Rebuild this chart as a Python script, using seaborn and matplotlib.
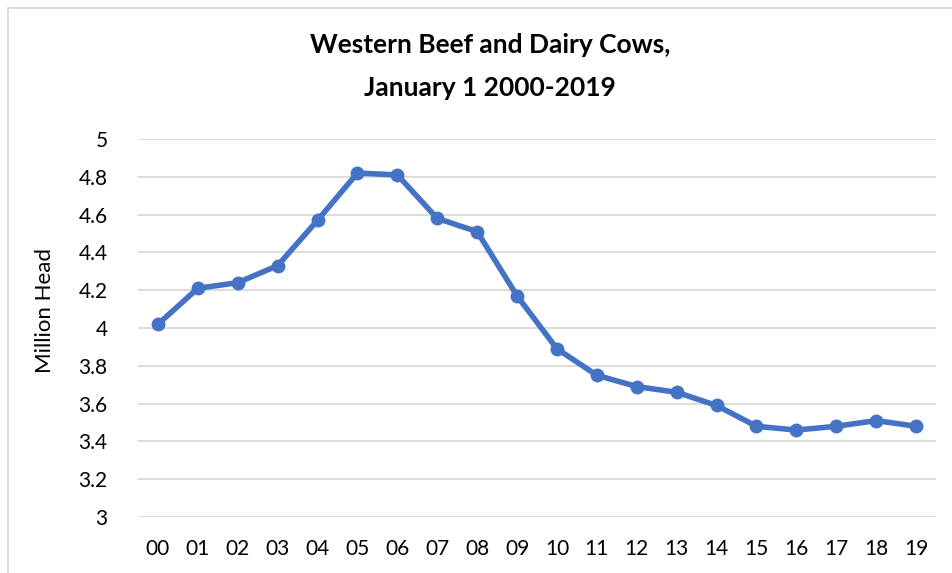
import pandas as pd
import seaborn as sns
import matplotlib.pyplot as plt
from matplotlib.patches import Rectangle

years = ['00', '01', '02', '03', '04', '05', '06', '07', '08', '09',
         '10', '11', '12', '13', '14', '15', '16', '17', '18', '19']
cows = [4.02, 4.21, 4.24, 4.33, 4.57, 4.82, 4.81, 4.58, 4.51, 4.17,
        3.89, 3.75, 3.69, 3.66, 3.59, 3.48, 3.46, 3.48, 3.51, 3.48]
y_ticks = [3, 3.2, 3.4, 3.6, 3.8, 4, 4.2, 4.4, 4.6, 4.8, 5]
y_labels = ['3', '3.2', '3.4', '3.6', '3.8', '4', '4.2', '4.4', '4.6', '4.8', '5']

df = pd.DataFrame({'Year': years, 'Cows': cows})
df['pos'] = range(len(df))

sns.set_style("white")
plt.rcParams['font.family'] = ['Lato', 'DejaVu Sans']
plt.rcParams['text.color'] = 'black'

W, H = 952, 573
fig = plt.figure(figsize=(W / 100, H / 100), dpi=100)
ax = fig.add_axes([138 / W, 1 - 517 / H, (936 - 138) / W, (517 - 139) / H])

blue = '#4472c4'
sns.lineplot(data=df, x='pos', y='Cows', ax=ax, color=blue, linewidth=4,
             marker='o', markersize=10, markeredgewidth=0, zorder=3)

ax.set_xlim(-0.5, len(years) - 0.5)
ax.set_ylim(3, 5)
ax.set_xticks(df['pos'])
ax.set_xticklabels(years)
ax.set_yticks(y_ticks)
ax.set_yticklabels(y_labels)
ax.yaxis.grid(True, color='#d9d9d9', linewidth=1.3)
ax.xaxis.grid(False)
for s in ax.spines.values():
    s.set_visible(False)
ax.tick_params(axis='both', length=0, labelsize=15, colors='#000000')
ax.tick_params(axis='x', pad=16)
ax.tick_params(axis='y', pad=22)
ax.set_xlabel('')
ax.set_ylabel('')

fig.text(45 / W, 1 - 310 / H, 'Million Head', rotation=90, ha='center',
         va='center', fontsize=16)
fig.text(490 / W, 1 - 45 / H, 'Western Beef and Dairy Cows,', ha='center',
         va='center', fontsize=19, fontweight='bold')
fig.text(490 / W, 1 - 88 / H, 'January 1 2000-2019', ha='center',
         va='center', fontsize=19, fontweight='bold')

# outer chart border (light gray, runs off the right and bottom edges)
fig.patches.append(Rectangle((7.5 / W, -0.1), 1.2, 1 - 8 / H + 0.1,
                             transform=fig.transFigure, fill=False,
                             edgecolor='#d9d9d9', linewidth=1.3))

fig.savefig('out.png', dpi=100, facecolor='white')
